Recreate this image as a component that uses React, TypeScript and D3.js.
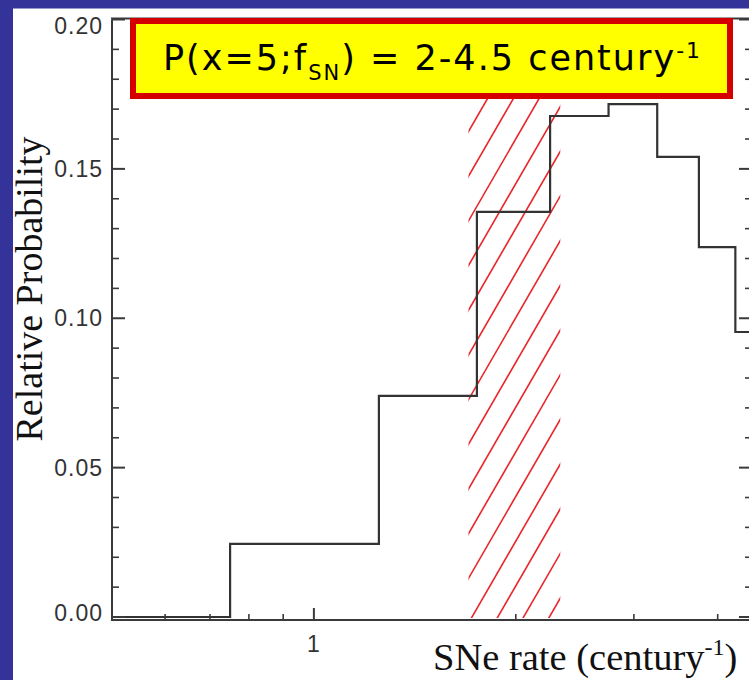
import React from "react";
import * as d3 from "d3";

// ---- data ----
const rateCenters = [0.5, 1.0, 1.5, 2.0, 2.5, 3.0, 3.5, 4.0, 4.5];
const relProb = [0.0, 0.0245, 0.074, 0.1356, 0.1677, 0.1717, 0.154, 0.1238, 0.0954];
const binWidth = 0.5;
const xDomain = [0.5, 4.5];
const yDomain = [-0.001, 0.2];
const yMajorTicks = [0, 0.05, 0.1, 0.15, 0.2];
const yTickLabels = ["0.00", "0.05", "0.10", "0.15", "0.20"];
const xMajorTicks = [1];
const xTickLabels = ["1"];
const xMinorTicks = [0.6, 0.7, 0.8, 0.9, 2, 3, 4];
const hatchRange = [1.7, 2.33];

const W = 749;
const H = 680;
const L = 112, R = 752, T = 19.5, B = 620;

export default function App() {
  const x = d3.scaleLog().domain(xDomain).range([L, R]);
  const y = d3.scaleLinear().domain(yDomain).range([B, T]);

  const pts: [number, number][] = [];
  rateCenters.forEach((c, i) => {
    const lo = Math.max(c - binWidth / 2, xDomain[0]);
    const hi = c + binWidth / 2;
    pts.push([lo, relProb[i]]);
    pts.push([hi, relProb[i]]);
  });
  const line = d3.line<[number, number]>().x((d) => x(d[0])).y((d) => y(d[1]));

  const yMinor = d3.range(0, 0.2001, 0.01).filter((v) => !yMajorTicks.some((m) => Math.abs(m - v) < 1e-6));

  const hx0 = x(hatchRange[0]);
  const hx1 = x(hatchRange[1]);
  const slope = Math.tan((60 * Math.PI) / 180);
  const spacing = 25.8;
  const yb = 617;
  const hatchLines = d3.range(-30, 12).map((k) => {
    const xi = hx0 - 8 + k * spacing;
    return { x1: xi, y1: yb + 20, x2: xi + (yb + 20) / slope, y2: 0 };
  });

  const axisColor = "#3a3a3a";
  const tickFont = "'Liberation Sans', Arial, Helvetica, sans-serif";
  const serif = "'Liberation Serif', 'Times New Roman', serif";
  const clampY = (v: number) => Math.min(Math.max(v, 26), 613);

  return (
    <svg width={W} height={H} style={{ position: "absolute", left: 0, top: 0, background: "#fff" }}>
      <defs>
        <clipPath id="hatchClip">
          <rect x={hx0} y={T} width={hx1 - hx0} height={yb - T + 1} />
        </clipPath>
        <clipPath id="plotClip">
          <rect x={L} y={T - 2} width={R - L} height={B - T + 4} />
        </clipPath>
      </defs>
      <rect x={0} y={0} width={W} height={H} fill="#fff" />
      {/* frame */}
      <rect x={0} y={0} width={W} height={8.5} fill="#333399" />
      <rect x={0} y={0} width={13} height={H} fill="#333399" />

      {/* hatch */}
      <g clipPath="url(#hatchClip)">
        {hatchLines.map((l, i) => (
          <line key={i} x1={l.x1} y1={l.y1} x2={l.x2} y2={l.y2} stroke="#e8262a" strokeWidth={1.6} />
        ))}
      </g>

      {/* histogram */}
      <path d={line(pts) || ""} fill="none" stroke="#333" strokeWidth={2.2} clipPath="url(#plotClip)" />

      {/* axes */}
      <g stroke={axisColor} strokeWidth={2} fill="none">
        <line x1={L} y1={T} x2={L} y2={B + 1} />
        <line x1={R} y1={T} x2={R} y2={B} />
        <line x1={L - 1} y1={B} x2={W} y2={B} />
        <line x1={L - 1} y1={T - 1} x2={W} y2={T - 1} />
        {yMajorTicks.map((v, i) => (
          <g key={"ym" + i}>
            <line x1={L} x2={L + 13} y1={y(v)} y2={y(v)} />
            <line x1={R} x2={R - 13} y1={y(v)} y2={y(v)} />
          </g>
        ))}
        {yMinor.map((v, i) => (
          <g key={"yn" + i}>
            <line x1={L} x2={L + 7} y1={y(v)} y2={y(v)} strokeWidth={1.6} />
            <line x1={R} x2={R - 7} y1={y(v)} y2={y(v)} strokeWidth={1.6} />
          </g>
        ))}
        {xMajorTicks.map((v, i) => (
          <g key={"xm" + i}>
            <line x1={x(v)} x2={x(v)} y1={B} y2={B - 12} />
            <line x1={x(v)} x2={x(v)} y1={T} y2={T + 12} />
          </g>
        ))}
        {xMinorTicks.map((v, i) => (
          <g key={"xn" + i}>
            <line x1={x(v)} x2={x(v)} y1={B} y2={B - 6} strokeWidth={1.6} />
            <line x1={x(v)} x2={x(v)} y1={T} y2={T + 6} strokeWidth={1.6} />
          </g>
        ))}
      </g>

      {/* tick labels */}
      <g fontFamily={tickFont} fontSize={23} fill="#333" letterSpacing={1}>
        {yMajorTicks.map((v, i) => (
          <text key={"yl" + i} x={103} y={clampY(y(v)) + 8} textAnchor="end">
            {yTickLabels[i]}
          </text>
        ))}
        {xMajorTicks.map((v, i) => (
          <text key={"xl" + i} x={x(v)} y={652} textAnchor="middle">
            {xTickLabels[i]}
          </text>
        ))}
      </g>

      {/* axis titles */}
      <text
        transform="translate(42,289) rotate(-90)"
        textAnchor="middle"
        fontFamily={serif}
        fontSize={38}
        fill="#111"
      >
        Relative Probability
      </text>
      <text x={433} y={670} fontFamily={serif} fontSize={38.5} fill="#111">
        SNe rate (century<tspan fontSize={24} dy={-15}>-1</tspan>
        <tspan dy={15}>)</tspan>
      </text>

      {/* annotation box */}
      <rect x={133} y={21} width={597} height={75} fill="#ffff00" stroke="#d40000" strokeWidth={6} />
      <text x={163} y={70} fontFamily="'DejaVu Sans', Verdana, sans-serif" fontSize={35} fill="#000" letterSpacing={2}>
        P(x=5;f<tspan fontSize={21} dy={10}>SN</tspan>
        <tspan dy={-10}>) = 2-4.5 century</tspan>
        <tspan fontSize={22} dy={-12}>-1</tspan>
      </text>
    </svg>
  );
}
